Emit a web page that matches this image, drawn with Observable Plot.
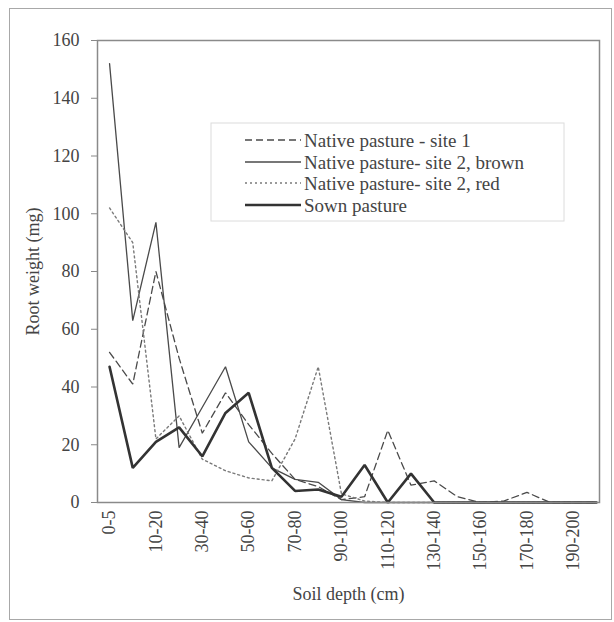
<!DOCTYPE html>
<html><head><meta charset="utf-8">
<script src="https://cdn.jsdelivr.net/npm/d3@7"></script>
<script src="https://cdn.jsdelivr.net/npm/@observablehq/plot@0.6"></script>
<style>
body{margin:0;background:#fff}
#wrap{position:relative;width:614px;height:622px;overflow:hidden}
#wrap svg, #wrap svg text{font-family:'Liberation Serif','Times New Roman',serif !important}
#border{position:absolute;left:9px;top:8px;width:601px;height:610px;border:1px solid #a8a8a8;pointer-events:none}
</style>
</head><body><div id="wrap"><div id="border"></div></div>
<script>
const categories = ["0-5","5-10","10-20","20-30","30-40","40-50","50-60","60-70","70-80","80-90","90-100",
  "100-110","110-120","120-130","130-140","140-150","150-160","160-170","170-180","180-190","190-200","200-210"];
const seriesNames = ["Native pasture - site 1","Native pasture- site 2, brown","Native pasture- site 2, red","Sown pasture"];
const site1 = [52, 41, 80, 50, 24, 38, 27, 17, 8, 5.5, 1, 2, 25, 6, 7.5, 2, 0, 0.5, 3.5, 0, 0, 0];
const brown = [152, 63, 97, 19, 33, 47, 21, 12, 8, 7, 1, 0, 0, 0, 0, 0, 0, 0, 0, 0, 0, 0];
const red   = [102, 90, 22, 30, 15, 11, 8.5, 7.5, 22, 47, 3, 0.5, 0, 0, 0, 0, 0, 0, 0, 0, 0, 0];
const sown  = [47, 12, 21, 26, 16, 31, 38, 12, 4, 4.5, 2, 13, 0, 10, 0, 0, 0, 0, 0, 0, 0, 0];
const yTicks = [0, 20, 40, 60, 80, 100, 120, 140, 160];
const xLabelIdx = categories.map((c, i) => i).filter(i => i % 2 === 0);

const styles = [
  {stroke: "#4a4a4a", width: 1.3, dash: "7,4"},
  {stroke: "#4a4a4a", width: 1.3, dash: null},
  {stroke: "#7a7a7a", width: 1.4, dash: "2,3"},
  {stroke: "#333333", width: 2.6, dash: null}
];
const values = [site1, brown, red, sown];
const font = "'Liberation Serif','Times New Roman',serif";

const lineMarks = values.map((vals, k) =>
  Plot.line(vals.map((v, i) => ({i, v})), {
    x: "i", y: "v", stroke: styles[k].stroke, strokeWidth: styles[k].width,
    strokeDasharray: styles[k].dash || undefined, strokeLinejoin: "miter"
  })
);

const plot = Plot.plot({
  width: 614, height: 622,
  marginLeft: 97, marginRight: 15, marginTop: 40, marginBottom: 120,
  style: {fontFamily: font, fontSize: "18px", color: "#444", background: "transparent"},
  x: {type: "linear", domain: [-0.52, 21.13]},
  y: {domain: [0, 160]},
  marks: [
    Plot.axisY({ticks: yTicks, tickSize: 6, tickPadding: 12, stroke: "#888",
      label: "Root weight (mg)", labelAnchor: "center", labelOffset: 71, labelArrow: "none"}),
    Plot.axisX({ticks: xLabelIdx, tickFormat: i => categories[i], tickRotate: -90, tickSize: 0, tickPadding: 8,
      label: "Soil depth (cm)", labelAnchor: "center", labelOffset: 97, labelArrow: "none"}),
    ...lineMarks,
    Plot.frame({stroke: "#8a8a8a", strokeWidth: 1.5})
  ]
});
document.getElementById("wrap").appendChild(plot);

// legend inside plot area
const svg = d3.select(plot);
const lg = svg.append("g").attr("font-family", font).attr("font-size", 19)
  .attr("fill", "#444").attr("text-anchor", "start");
lg.append("rect").attr("x", 211).attr("y", 123).attr("width", 353).attr("height", 98)
  .attr("fill", "#fff").attr("stroke", "#dcdcdc").attr("stroke-width", 1);
const rowsY = [140, 162, 183, 205];
seriesNames.forEach((name, k) => {
  lg.append("line").attr("x1", 245).attr("x2", 301).attr("y1", rowsY[k]).attr("y2", rowsY[k])
    .attr("stroke", styles[k].stroke).attr("stroke-width", styles[k].width)
    .attr("stroke-dasharray", styles[k].dash);
  lg.append("text").attr("x", 304).attr("y", rowsY[k]).attr("dy", "0.35em")
    .attr("text-anchor", "start").text(name);
});
</script>
</body></html>
